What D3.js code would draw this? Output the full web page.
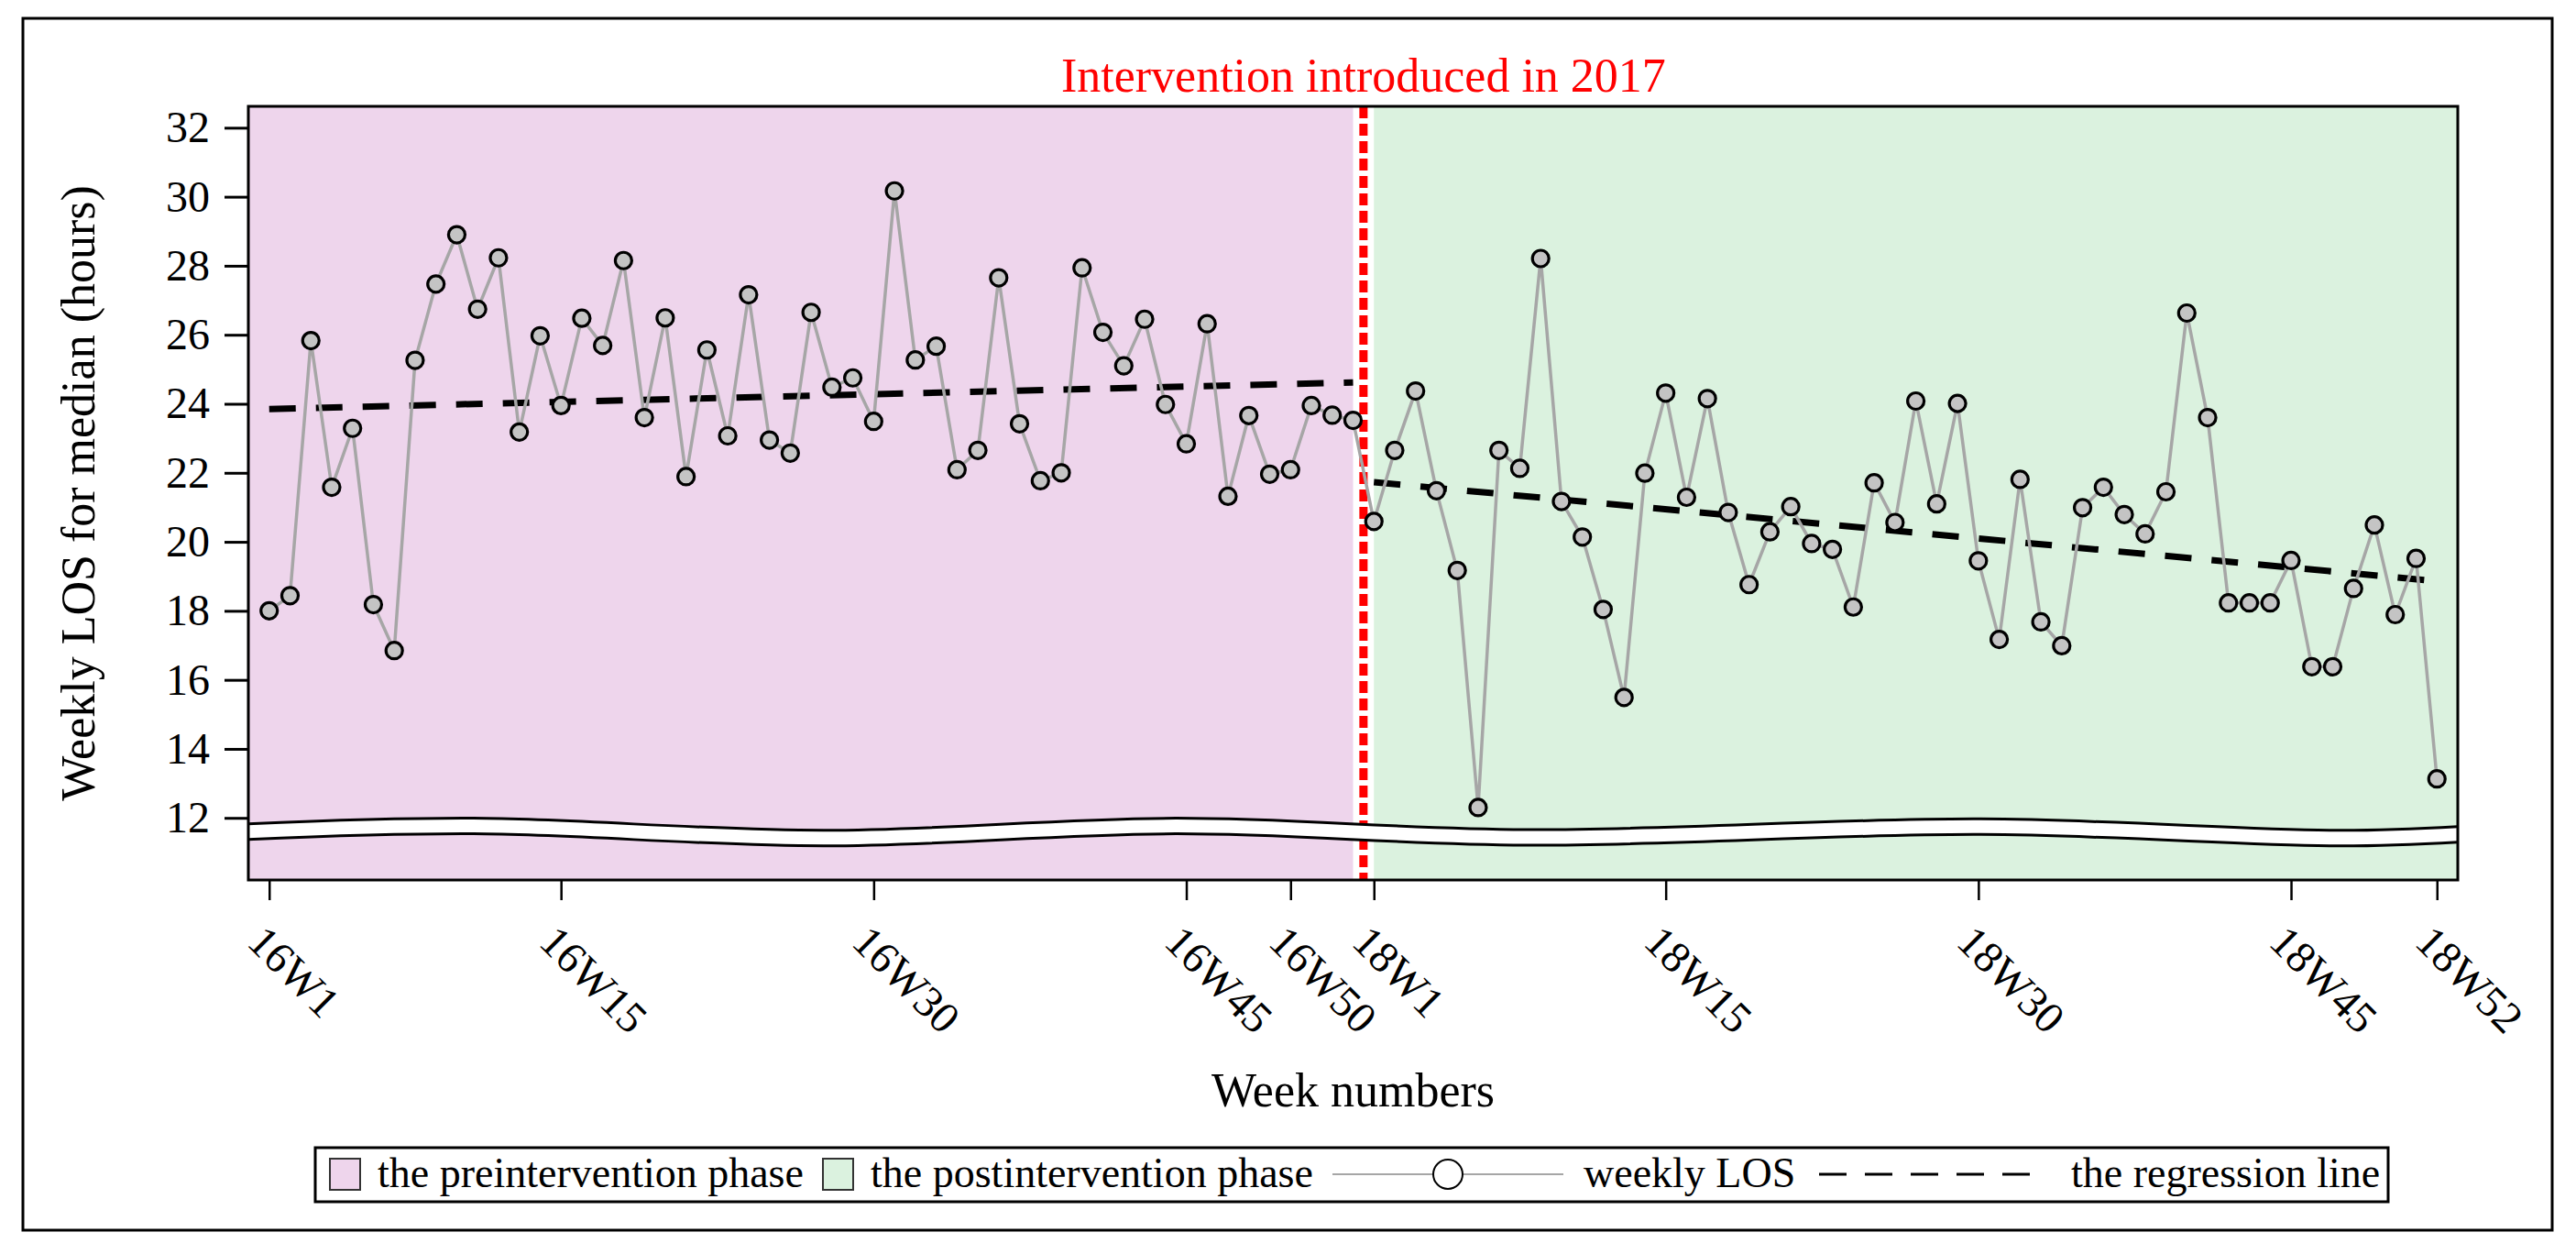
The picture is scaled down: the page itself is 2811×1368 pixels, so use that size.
<!DOCTYPE html>
<html>
<head>
<meta charset="utf-8">
<script src="https://cdn.jsdelivr.net/npm/d3@7"></script>
<style>
  body { margin: 0; background: #fff; }
  text { font-family: "Liberation Serif", "Times New Roman", serif; }
</style>
</head>
<body>
<div id="chart"></div>
<script>
// week categories (2016 has weeks 1..53, then 2018 weeks 1..52)
const weeksPre = d3.range(1, 54).map((w) => "16W" + w);
const weeksPost = d3.range(1, 53).map((w) => "18W" + w);
const tickWeeks = ["16W1", "16W15", "16W30", "16W45", "16W50", "18W1", "18W15", "18W30", "18W45", "18W52"];
const yTicks = [12, 14, 16, 18, 20, 22, 24, 26, 28, 30, 32];

// weekly LOS (hours)
const losPre = [
	18.0, 18.44, 25.83, 21.58, 23.29, 18.18, 16.85, 25.26, 27.47, 28.9,
	26.74, 28.23, 23.18, 25.97, 23.95, 26.48, 25.69, 28.15, 23.6, 26.49,
	21.89, 25.56, 23.07, 27.16, 22.95, 22.57, 26.65, 24.48, 24.75, 23.49,
	30.17, 25.27, 25.67, 22.09, 22.65, 27.65, 23.42, 21.77, 22.0, 27.94,
	26.07, 25.1, 26.45, 23.98, 22.84, 26.32, 21.32, 23.66, 21.96, 22.09,
	23.95, 23.67, 23.52,
];
const losPost = [
	20.59, 22.65, 24.37, 21.48, 19.17, 12.3, 22.65, 22.13, 28.21, 21.17,
	20.14, 18.04, 15.49, 21.99, 24.31, 21.29, 24.15, 20.85, 18.76, 20.29,
	21.02, 19.95, 19.78, 18.11, 21.71, 20.56, 24.08, 21.1, 24.01, 19.45,
	17.17, 21.81, 17.68, 16.99, 20.99, 21.58, 20.79, 20.23, 21.45, 26.63,
	23.6, 18.23, 18.23, 18.23, 19.46, 16.38, 16.38, 18.65, 20.49, 17.89,
	19.52, 13.13,
];

// regression line end points
const regPre = [["16W1", 23.85], ["16W53", 24.62]];
const regPost = [["18W1", 21.73], ["18W52", 18.86]];

// axis break wave (week position, value of upper edge)
const breakWave = [[-1, 11.83], [9.8, 11.99], [26.6, 11.64], [43.5, 11.99], [60.3, 11.66], [82.1, 11.97], [99.4, 11.64], [105, 11.75]];

const width = 2811, height = 1368;
const mLeft = 271, mRight = 2682, mTop = 116, mBottom = 960;
const pink = "#eed5ec", green = "#dbf2df";

const weeks = weeksPre.concat(weeksPost);
const points = weeks.map((w, i) => ({ week: w, v: i < losPre.length ? losPre[i] : losPost[i - losPre.length] }));

const svg = d3.select("#chart").append("svg")
	.attr("width", width)
	.attr("height", height);

svg.append("rect").attr("width", width).attr("height", height).attr("fill", "#fff");

const x = d3.scalePoint().domain(weeks).range([mLeft, mRight]).padding(1);
const y = d3.scaleLinear().domain([10.2, 32.62]).range([mBottom, mTop]);
const xi = (i) => x(weeks[0]) + i * x.step();

// phase backgrounds
const lastPre = x(weeksPre[weeksPre.length - 1]);
const firstPost = x(weeksPost[0]);
svg.append("rect")
	.attr("x", mLeft).attr("y", mTop)
	.attr("width", lastPre - mLeft)
	.attr("height", mBottom - mTop)
	.attr("fill", pink);
svg.append("rect")
	.attr("x", firstPost).attr("y", mTop)
	.attr("width", mRight - firstPost)
	.attr("height", mBottom - mTop)
	.attr("fill", green);

// intervention line
const xInt = (lastPre + firstPost) / 2;
svg.append("line")
	.attr("x1", xInt).attr("x2", xInt)
	.attr("y1", mTop).attr("y2", mBottom)
	.attr("stroke", "#ff0000")
	.attr("stroke-width", 9)
	.attr("stroke-dasharray", "13,6");

svg.append("text")
	.attr("x", xInt).attr("y", 100)
	.attr("text-anchor", "middle")
	.attr("font-size", 52)
	.attr("fill", "#ff0000")
	.text("Intervention introduced in 2017");

// axis break band
const bandH = 17;
const lineXY = d3.line().curve(d3.curveCatmullRom);
const topPts = breakWave.map((d) => [xi(d[0]), y(d[1])]);
const botPts = topPts.map((p) => [p[0], p[1] + bandH]);
svg.append("path")
	.attr("d", lineXY(topPts) + "L" + lineXY(botPts.slice().reverse()).slice(1) + "Z")
	.attr("fill", "#fff");
[topPts, botPts].forEach((pts) => {
	svg.append("path")
		.attr("d", lineXY(pts))
		.attr("fill", "none")
		.attr("stroke", "#000")
		.attr("stroke-width", 3);
});

// regression lines
const regLine = d3.line().x((d) => x(d[0])).y((d) => y(d[1]));
[regPre, regPost].forEach((r) => {
	svg.append("path")
		.attr("d", regLine(r))
		.attr("fill", "none")
		.attr("stroke", "#000")
		.attr("stroke-width", 7)
		.attr("stroke-dasharray", "29,22");
});

// weekly LOS line and markers
svg.append("path")
	.datum(points)
	.attr("d", d3.line().x((d) => x(d.week)).y((d) => y(d.v)))
	.attr("fill", "none")
	.attr("stroke", "#a6a6a6")
	.attr("stroke-width", 3.5);

svg.append("g")
	.selectAll("circle")
	.data(points)
	.join("circle")
	.attr("cx", (d) => x(d.week))
	.attr("cy", (d) => y(d.v))
	.attr("r", 9)
	.attr("fill", "#c4c4c4")
	.attr("stroke", "#000")
	.attr("stroke-width", 3.2);

// plot frame
svg.append("rect")
	.attr("x", mLeft).attr("y", mTop)
	.attr("width", mRight - mLeft).attr("height", mBottom - mTop)
	.attr("fill", "none")
	.attr("stroke", "#000")
	.attr("stroke-width", 3);

// y axis
const yAxis = svg.append("g")
	.attr("transform", `translate(${mLeft},0)`)
	.call(d3.axisLeft(y).tickValues(yTicks).tickSize(26).tickPadding(16));
yAxis.select(".domain").remove();
yAxis.selectAll(".tick line").attr("stroke-width", 3);
yAxis.selectAll(".tick text")
	.attr("font-size", 48)
	.attr("font-family", "Liberation Serif, serif")
	.attr("fill", "#000");

// x axis
const xAxis = svg.append("g")
	.attr("transform", `translate(0,${mBottom})`)
	.call(d3.axisBottom(x).tickValues(tickWeeks).tickSize(22));
xAxis.select(".domain").remove();
xAxis.selectAll(".tick line").attr("stroke-width", 2.5);
xAxis.selectAll(".tick text")
	.attr("font-size", 48)
	.attr("font-family", "Liberation Serif, serif")
	.attr("fill", "#000")
	.attr("text-anchor", "start")
	.attr("x", 31)
	.attr("y", 68)
	.attr("dy", 0)
	.attr("transform", "rotate(45)");

// axis titles
svg.append("text")
	.attr("transform", `translate(103,${(mTop + mBottom) / 2}) rotate(-90)`)
	.attr("text-anchor", "middle")
	.attr("font-size", 52)
	.text("Weekly LOS for median (hours)");

svg.append("text")
	.attr("x", (mLeft + mRight) / 2).attr("y", 1207)
	.attr("text-anchor", "middle")
	.attr("font-size", 52)
	.text("Week numbers");

// legend
const lg = svg.append("g");
const ly = 1281;
lg.append("rect")
	.attr("x", 344).attr("y", 1252).attr("width", 2262).attr("height", 59)
	.attr("fill", "#fff").attr("stroke", "#000").attr("stroke-width", 3);

const swatches = [
	{ x: 360, color: pink, label: "the preintervention phase", tx: 412 },
	{ x: 898, color: green, label: "the postintervention phase", tx: 950 },
];
swatches.forEach((s) => {
	lg.append("rect")
		.attr("x", s.x).attr("y", ly - 17).attr("width", 33).attr("height", 34)
		.attr("fill", s.color).attr("stroke", "#333").attr("stroke-width", 2);
	lg.append("text")
		.attr("x", s.tx).attr("y", ly + 14)
		.attr("font-size", 46)
		.text(s.label);
});

lg.append("line")
	.attr("x1", 1454).attr("x2", 1706).attr("y1", ly).attr("y2", ly)
	.attr("stroke", "#a6a6a6").attr("stroke-width", 2);
lg.append("circle")
	.attr("cx", 1580).attr("cy", ly).attr("r", 16)
	.attr("fill", "#fff").attr("stroke", "#000").attr("stroke-width", 2);
lg.append("text")
	.attr("x", 1728).attr("y", ly + 14)
	.attr("font-size", 46)
	.text("weekly LOS");

lg.append("line")
	.attr("x1", 1985).attr("x2", 2215).attr("y1", ly).attr("y2", ly)
	.attr("stroke", "#000").attr("stroke-width", 3)
	.attr("stroke-dasharray", "30,20");
lg.append("text")
	.attr("x", 2260).attr("y", ly + 14)
	.attr("font-size", 46)
	.text("the regression line");

// outer border
svg.append("rect")
	.attr("x", 25).attr("y", 20).attr("width", 2760).attr("height", 1322)
	.attr("fill", "none").attr("stroke", "#000").attr("stroke-width", 3);
</script>
</body>
</html>
